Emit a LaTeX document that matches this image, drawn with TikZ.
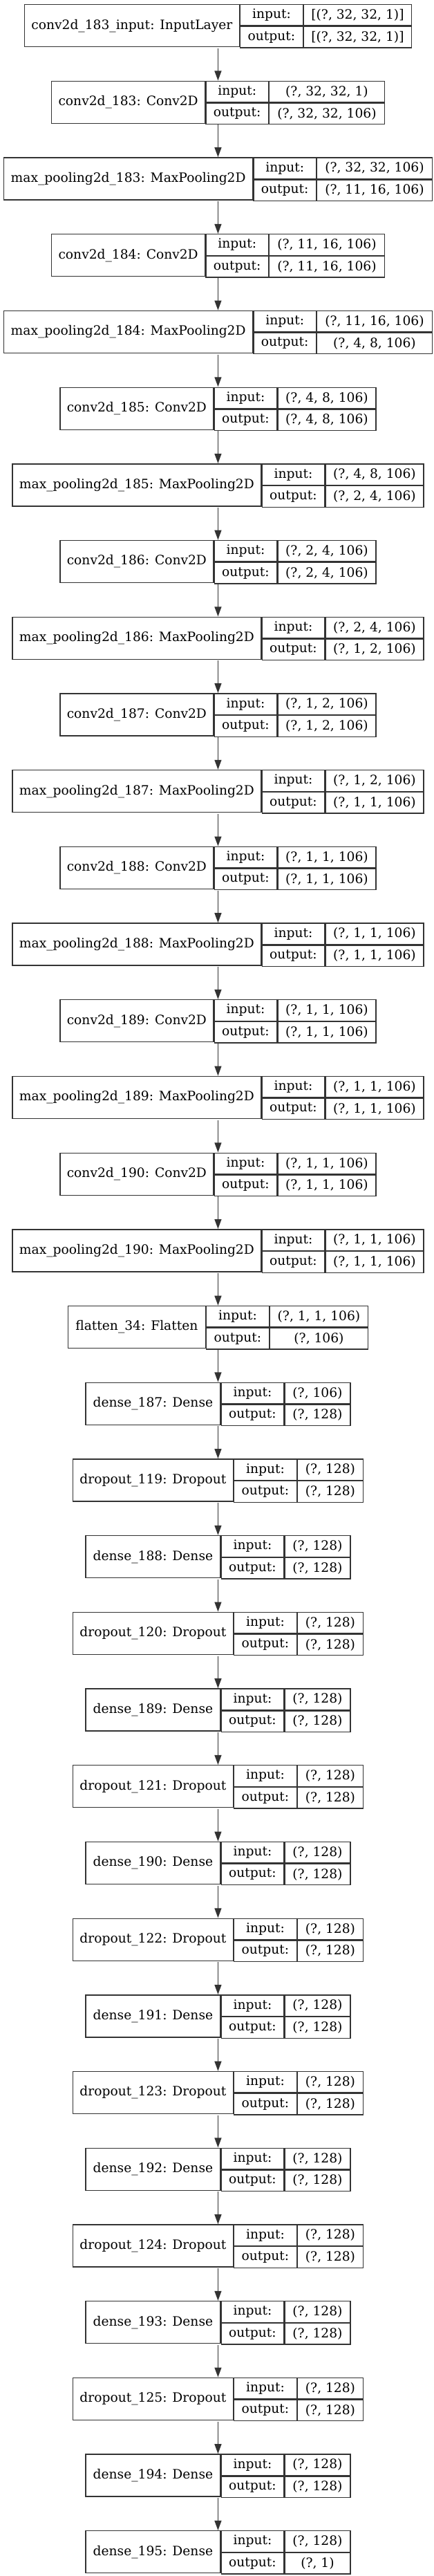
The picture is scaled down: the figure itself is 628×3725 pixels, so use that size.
\documentclass[tikz,border=0pt]{standalone}
\usepackage{fontspec}
\setmainfont{DejaVu Serif}
\usetikzlibrary{positioning, arrows.meta, fit}

\newcommand{\kfont}{\fontsize{18.67}{22.4}\selectfont}

\begin{document}
\begin{tikzpicture}[
            x=1pt, y=-1pt,
            cell/.style={
                rectangle,
                draw=black!80,
                line width=1.3pt,
                inner sep=0pt,
                anchor=north west,
                font=\kfont
            },
            lbl/.style={cell, minimum height=61pt},
            row/.style={cell, minimum height=30.5pt, minimum width=#1},
            arrow/.style={-{Triangle[length=14pt, width=10pt]}, line width=1.3pt, color=black!80}
        ]
        \useasboundingbox (0,0) rectangle (628,3725);
        \gdef\prev{}

        % Layers: name / label / label width / input / output / shape width
        \foreach \name/\lab/\lw/\ishp/\oshp/\sw [count=\i from 0] in {
            Input/{conv2d\_183\_input: InputLayer}/311/{[(?, 32, 32, 1)]}/{[(?, 32, 32, 1)]}/156,
            Conv183/{conv2d\_183: Conv2D}/222/{(?, 32, 32, 1)}/{(?, 32, 32, 106)}/166.5,
            Pool183/{max\_pooling2d\_183: MaxPooling2D}/360/{(?, 32, 32, 106)}/{(?, 11, 16, 106)}/166.5,
            Conv184/{conv2d\_184: Conv2D}/222/{(?, 11, 16, 106)}/{(?, 11, 16, 106)}/166.5,
            Pool184/{max\_pooling2d\_184: MaxPooling2D}/360/{(?, 11, 16, 106)}/{(?, 4, 8, 106)}/166.5,
            Conv185/{conv2d\_185: Conv2D}/222/{(?, 4, 8, 106)}/{(?, 4, 8, 106)}/142,
            Pool185/{max\_pooling2d\_185: MaxPooling2D}/360/{(?, 4, 8, 106)}/{(?, 2, 4, 106)}/142,
            Conv186/{conv2d\_186: Conv2D}/222/{(?, 2, 4, 106)}/{(?, 2, 4, 106)}/142,
            Pool186/{max\_pooling2d\_186: MaxPooling2D}/360/{(?, 2, 4, 106)}/{(?, 1, 2, 106)}/142,
            Conv187/{conv2d\_187: Conv2D}/222/{(?, 1, 2, 106)}/{(?, 1, 2, 106)}/142,
            Pool187/{max\_pooling2d\_187: MaxPooling2D}/360/{(?, 1, 2, 106)}/{(?, 1, 1, 106)}/142,
            Conv188/{conv2d\_188: Conv2D}/222/{(?, 1, 1, 106)}/{(?, 1, 1, 106)}/142,
            Pool188/{max\_pooling2d\_188: MaxPooling2D}/360/{(?, 1, 1, 106)}/{(?, 1, 1, 106)}/142,
            Conv189/{conv2d\_189: Conv2D}/222/{(?, 1, 1, 106)}/{(?, 1, 1, 106)}/142,
            Pool189/{max\_pooling2d\_189: MaxPooling2D}/360/{(?, 1, 1, 106)}/{(?, 1, 1, 106)}/142,
            Conv190/{conv2d\_190: Conv2D}/222/{(?, 1, 1, 106)}/{(?, 1, 1, 106)}/142,
            Pool190/{max\_pooling2d\_190: MaxPooling2D}/360/{(?, 1, 1, 106)}/{(?, 1, 1, 106)}/142,
            Flatten/{flatten\_34: Flatten}/199/{(?, 1, 1, 106)}/{(?, 106)}/142,
            Dense187/{dense\_187: Dense}/195/{(?, 106)}/{(?, 128)}/95,
            Drop119/{dropout\_119: Dropout}/232/{(?, 128)}/{(?, 128)}/95,
            Dense188/{dense\_188: Dense}/195/{(?, 128)}/{(?, 128)}/95,
            Drop120/{dropout\_120: Dropout}/232/{(?, 128)}/{(?, 128)}/95,
            Dense189/{dense\_189: Dense}/195/{(?, 128)}/{(?, 128)}/95,
            Drop121/{dropout\_121: Dropout}/232/{(?, 128)}/{(?, 128)}/95,
            Dense190/{dense\_190: Dense}/195/{(?, 128)}/{(?, 128)}/95,
            Drop122/{dropout\_122: Dropout}/232/{(?, 128)}/{(?, 128)}/95,
            Dense191/{dense\_191: Dense}/195/{(?, 128)}/{(?, 128)}/95,
            Drop123/{dropout\_123: Dropout}/232/{(?, 128)}/{(?, 128)}/95,
            Dense192/{dense\_192: Dense}/195/{(?, 128)}/{(?, 128)}/95,
            Drop124/{dropout\_124: Dropout}/232/{(?, 128)}/{(?, 128)}/95,
            Dense193/{dense\_193: Dense}/195/{(?, 128)}/{(?, 128)}/95,
            Drop125/{dropout\_125: Dropout}/232/{(?, 128)}/{(?, 128)}/95,
            Dense194/{dense\_194: Dense}/195/{(?, 128)}/{(?, 128)}/95,
            Dense195/{dense\_195: Dense}/195/{(?, 128)}/{(?, 1)}/95
        }{
            \pgfmathsetmacro{\lx}{313.5-(\lw+90.5+\sw)/2}
            \pgfmathsetmacro{\ty}{6+110.7*\i}

            \node[lbl, minimum width=\lw] (\name-lab) at (\lx,\ty) {\lab};
            \node[row=90.5] (\name-in) at (\name-lab.north east) {input:};
            \node[row=90.5] (\name-out) at (\name-in.south west) {output:};
            \node[row=\sw] (\name-ishp) at (\name-in.north east) {\ishp};
            \node[row=\sw] (\name-oshp) at (\name-out.north east) {\oshp};
            \node[fit=(\name-lab)(\name-oshp), inner sep=0pt] (\name) {};

            % Arrow from the layer before
            \ifnum\i>0 \draw[arrow] (\prev) -- (\name); \fi
            \xdef\prev{\name}
        }

        \end{tikzpicture}
\end{document}
